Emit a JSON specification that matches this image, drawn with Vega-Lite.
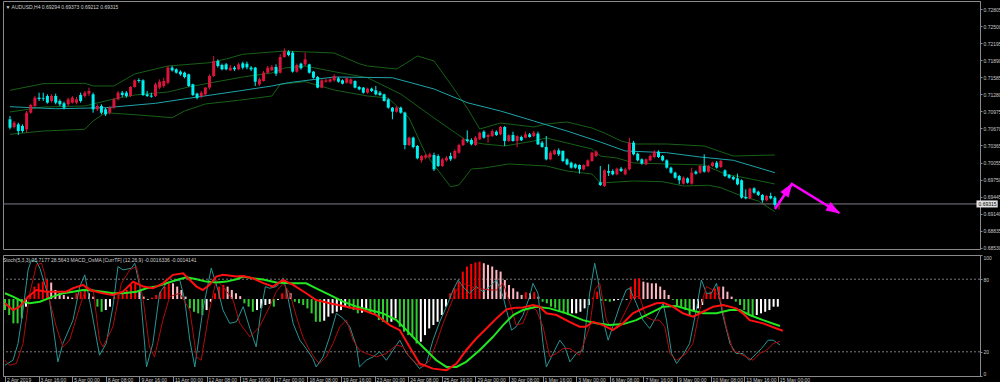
{
"$schema":"https://vega.github.io/schema/vega-lite/v6.json",
"background":"#000000",
"padding":0,
"spacing":2,
"config":{"view":{"stroke":"#8a8a8a","strokeWidth":1},"font":"Liberation Sans","axis":{"labelFont":"Liberation Sans","labelFontSize":5,"labelColor":"#c8c8c8","tickColor":"#8a8a8a","domainColor":"#8a8a8a","grid":false,"labelOverlap":false},"title":{"font":"Liberation Sans","fontSize":5,"fontWeight":"normal","color":"#d0d0d0","anchor":"start"}},
"resolve":{"scale":{"x":"independent","y":"independent","color":"independent"}},
"datasets":{
"candles":[
{"i":0,"o":0.70833,"h":0.70892,"l":0.70653,"c":0.70683},{"i":1,"o":0.70695,"h":0.70803,"l":0.70671,"c":0.70773},{"i":2,"o":0.70743,"h":0.70773,"l":0.70552,"c":0.70623},{"i":3,"o":0.70713,"h":0.70743,"l":0.70593,"c":0.70623},{"i":4,"o":0.70653,"h":0.70982,"l":0.70593,"c":0.70952},{"i":5,"o":0.70952,"h":0.71114,"l":0.70934,"c":0.7109},{"i":6,"o":0.71072,"h":0.71251,"l":0.71054,"c":0.71221},{"i":7,"o":0.71221,"h":0.71311,"l":0.71162,"c":0.71197},{"i":8,"o":0.71209,"h":0.71311,"l":0.71162,"c":0.71197},{"i":9,"o":0.71251,"h":0.71281,"l":0.71114,"c":0.71132},
{"i":10,"o":0.71162,"h":0.71281,"l":0.71132,"c":0.71251},{"i":11,"o":0.71251,"h":0.71293,"l":0.71102,"c":0.71132},{"i":12,"o":0.71162,"h":0.71191,"l":0.71072,"c":0.71102},{"i":13,"o":0.7112,"h":0.7115,"l":0.71012,"c":0.71042},{"i":14,"o":0.71102,"h":0.71221,"l":0.71072,"c":0.71191},{"i":15,"o":0.71132,"h":0.71251,"l":0.71114,"c":0.71221},{"i":16,"o":0.71132,"h":0.71233,"l":0.71102,"c":0.71191},{"i":17,"o":0.71269,"h":0.71311,"l":0.71132,"c":0.71162},{"i":18,"o":0.71251,"h":0.71341,"l":0.71221,"c":0.71311},{"i":19,"o":0.71293,"h":0.71401,"l":0.71251,"c":0.71341},
{"i":20,"o":0.71281,"h":0.71311,"l":0.70952,"c":0.71012},{"i":21,"o":0.71012,"h":0.71102,"l":0.70982,"c":0.71072},{"i":22,"o":0.71072,"h":0.71102,"l":0.70922,"c":0.70952},{"i":23,"o":0.71012,"h":0.71042,"l":0.70892,"c":0.70922},{"i":24,"o":0.70952,"h":0.71072,"l":0.70922,"c":0.71042},{"i":25,"o":0.71042,"h":0.71221,"l":0.71024,"c":0.71191},{"i":26,"o":0.71191,"h":0.71341,"l":0.71174,"c":0.71311},{"i":27,"o":0.71311,"h":0.71341,"l":0.71233,"c":0.71269},{"i":28,"o":0.71311,"h":0.71341,"l":0.71221,"c":0.71251},{"i":29,"o":0.71251,"h":0.71431,"l":0.71233,"c":0.71413},
{"i":30,"o":0.71413,"h":0.7155,"l":0.71401,"c":0.71532},{"i":31,"o":0.71538,"h":0.71568,"l":0.7149,"c":0.7152},{"i":32,"o":0.71532,"h":0.7155,"l":0.71251,"c":0.71269},{"i":33,"o":0.71281,"h":0.71341,"l":0.71233,"c":0.71251},{"i":34,"o":0.71257,"h":0.71311,"l":0.71221,"c":0.71239},{"i":35,"o":0.71251,"h":0.7149,"l":0.71233,"c":0.71461},{"i":36,"o":0.71401,"h":0.7155,"l":0.71371,"c":0.71508},{"i":37,"o":0.71431,"h":0.7158,"l":0.71401,"c":0.7152},{"i":38,"o":0.7149,"h":0.71789,"l":0.71461,"c":0.7176},{"i":39,"o":0.7176,"h":0.71789,"l":0.71688,"c":0.71712},
{"i":40,"o":0.7173,"h":0.71748,"l":0.71652,"c":0.7167},{"i":41,"o":0.71688,"h":0.71712,"l":0.71616,"c":0.7164},{"i":42,"o":0.7167,"h":0.71688,"l":0.71568,"c":0.71592},{"i":43,"o":0.7164,"h":0.71652,"l":0.71413,"c":0.71431},{"i":44,"o":0.71461,"h":0.71473,"l":0.71251,"c":0.71269},{"i":45,"o":0.71293,"h":0.71311,"l":0.71191,"c":0.71221},{"i":46,"o":0.71251,"h":0.71341,"l":0.71209,"c":0.71311},{"i":47,"o":0.71281,"h":0.71413,"l":0.71251,"c":0.71401},{"i":48,"o":0.71401,"h":0.7164,"l":0.71371,"c":0.7161},{"i":49,"o":0.7161,"h":0.71969,"l":0.71592,"c":0.71879},
{"i":50,"o":0.71879,"h":0.71909,"l":0.7176,"c":0.71789},{"i":51,"o":0.71807,"h":0.71831,"l":0.71712,"c":0.7173},{"i":52,"o":0.71819,"h":0.71843,"l":0.71712,"c":0.7173},{"i":53,"o":0.71712,"h":0.71807,"l":0.717,"c":0.7176},{"i":54,"o":0.7176,"h":0.71789,"l":0.717,"c":0.7173},{"i":55,"o":0.7173,"h":0.71849,"l":0.71712,"c":0.71819},{"i":56,"o":0.71837,"h":0.71867,"l":0.7173,"c":0.7176},{"i":57,"o":0.7183,"h":0.71867,"l":0.7173,"c":0.71765},{"i":58,"o":0.7176,"h":0.71789,"l":0.717,"c":0.7173},{"i":59,"o":0.7176,"h":0.71772,"l":0.71431,"c":0.71508},
{"i":60,"o":0.71461,"h":0.7158,"l":0.71431,"c":0.7155},{"i":61,"o":0.7152,"h":0.717,"l":0.71508,"c":0.7167},{"i":62,"o":0.7167,"h":0.71789,"l":0.71652,"c":0.7176},{"i":63,"o":0.71712,"h":0.71807,"l":0.717,"c":0.71772},{"i":64,"o":0.71772,"h":0.71819,"l":0.7161,"c":0.71652},{"i":65,"o":0.7167,"h":0.71999,"l":0.71652,"c":0.71951},{"i":66,"o":0.71951,"h":0.72106,"l":0.71939,"c":0.72059},{"i":67,"o":0.72047,"h":0.72071,"l":0.71963,"c":0.71987},{"i":68,"o":0.72029,"h":0.72059,"l":0.7167,"c":0.71688},{"i":69,"o":0.71688,"h":0.71831,"l":0.7167,"c":0.71807},
{"i":70,"o":0.71831,"h":0.71849,"l":0.71724,"c":0.71748},{"i":71,"o":0.71819,"h":0.72029,"l":0.71789,"c":0.71909},{"i":72,"o":0.71819,"h":0.71831,"l":0.71652,"c":0.7167},{"i":73,"o":0.71688,"h":0.717,"l":0.71562,"c":0.7158},{"i":74,"o":0.71592,"h":0.7161,"l":0.71389,"c":0.71401},{"i":75,"o":0.71401,"h":0.7155,"l":0.71389,"c":0.71532},{"i":76,"o":0.71508,"h":0.71568,"l":0.7149,"c":0.71532},{"i":77,"o":0.71508,"h":0.71568,"l":0.7149,"c":0.7155},{"i":78,"o":0.71532,"h":0.7164,"l":0.71508,"c":0.7161},{"i":79,"o":0.71568,"h":0.71592,"l":0.7149,"c":0.71508},
{"i":80,"o":0.71532,"h":0.7155,"l":0.71461,"c":0.71473},{"i":81,"o":0.7149,"h":0.7158,"l":0.71473,"c":0.71568},{"i":82,"o":0.71473,"h":0.71568,"l":0.71461,"c":0.7155},{"i":83,"o":0.7152,"h":0.71532,"l":0.71389,"c":0.71401},{"i":84,"o":0.71413,"h":0.71431,"l":0.71353,"c":0.71371},{"i":85,"o":0.71401,"h":0.71413,"l":0.71293,"c":0.71311},{"i":86,"o":0.71311,"h":0.71401,"l":0.71293,"c":0.71383},{"i":87,"o":0.71383,"h":0.71401,"l":0.71323,"c":0.71341},{"i":88,"o":0.71353,"h":0.71431,"l":0.71263,"c":0.71281},{"i":89,"o":0.71311,"h":0.71341,"l":0.71251,"c":0.71269},
{"i":90,"o":0.71281,"h":0.71293,"l":0.7115,"c":0.71162},{"i":91,"o":0.71191,"h":0.71209,"l":0.71024,"c":0.71042},{"i":92,"o":0.71042,"h":0.71054,"l":0.70833,"c":0.7097},{"i":93,"o":0.7097,"h":0.71066,"l":0.70952,"c":0.71042},{"i":94,"o":0.71042,"h":0.7106,"l":0.70934,"c":0.70952},{"i":95,"o":0.70952,"h":0.7097,"l":0.70295,"c":0.70372},{"i":96,"o":0.70372,"h":0.70522,"l":0.70354,"c":0.70504},{"i":97,"o":0.70504,"h":0.70522,"l":0.70312,"c":0.70336},{"i":98,"o":0.70354,"h":0.70372,"l":0.70115,"c":0.70133},{"i":99,"o":0.70097,"h":0.70193,"l":0.70055,"c":0.70175},
{"i":100,"o":0.70145,"h":0.70217,"l":0.70115,"c":0.70187},{"i":101,"o":0.70157,"h":0.70235,"l":0.70133,"c":0.70205},{"i":102,"o":0.70193,"h":0.70235,"l":0.69906,"c":0.69936},{"i":103,"o":0.70175,"h":0.70205,"l":0.69978,"c":0.69996},{"i":104,"o":0.69996,"h":0.70145,"l":0.69978,"c":0.70115},{"i":105,"o":0.70097,"h":0.70175,"l":0.70073,"c":0.70145},{"i":106,"o":0.70175,"h":0.70235,"l":0.70085,"c":0.70115},{"i":107,"o":0.70133,"h":0.70295,"l":0.70115,"c":0.70265},{"i":108,"o":0.70235,"h":0.70396,"l":0.70217,"c":0.70372},{"i":109,"o":0.70372,"h":0.70504,"l":0.70354,"c":0.70474},
{"i":110,"o":0.70474,"h":0.70635,"l":0.70414,"c":0.70444},{"i":111,"o":0.70462,"h":0.70492,"l":0.70366,"c":0.70384},{"i":112,"o":0.70372,"h":0.70534,"l":0.70354,"c":0.70504},{"i":113,"o":0.70474,"h":0.70611,"l":0.70456,"c":0.70593},{"i":114,"o":0.70611,"h":0.70635,"l":0.70486,"c":0.70504},{"i":115,"o":0.70516,"h":0.70576,"l":0.70414,"c":0.70552},{"i":116,"o":0.70534,"h":0.70653,"l":0.70516,"c":0.70623},{"i":117,"o":0.70611,"h":0.70635,"l":0.70534,"c":0.70552},{"i":118,"o":0.70564,"h":0.70713,"l":0.70546,"c":0.70695},{"i":119,"o":0.70695,"h":0.70713,"l":0.70354,"c":0.70444},
{"i":120,"o":0.70444,"h":0.70564,"l":0.70426,"c":0.70546},{"i":121,"o":0.70552,"h":0.70611,"l":0.70432,"c":0.70444},{"i":122,"o":0.70444,"h":0.70546,"l":0.70336,"c":0.70534},{"i":123,"o":0.70516,"h":0.7054,"l":0.70444,"c":0.70456},{"i":124,"o":0.70504,"h":0.70611,"l":0.70492,"c":0.70564},{"i":125,"o":0.70564,"h":0.70588,"l":0.70504,"c":0.70516},{"i":126,"o":0.70534,"h":0.70623,"l":0.70516,"c":0.70593},{"i":127,"o":0.70576,"h":0.70611,"l":0.70372,"c":0.70384},{"i":128,"o":0.70414,"h":0.70444,"l":0.70324,"c":0.70336},{"i":129,"o":0.70336,"h":0.70534,"l":0.70097,"c":0.70115},
{"i":130,"o":0.70115,"h":0.70265,"l":0.70097,"c":0.70235},{"i":131,"o":0.70205,"h":0.70295,"l":0.70193,"c":0.70277},{"i":132,"o":0.70277,"h":0.70312,"l":0.70175,"c":0.70205},{"i":133,"o":0.70265,"h":0.70277,"l":0.70067,"c":0.70085},{"i":134,"o":0.70115,"h":0.70133,"l":0.70008,"c":0.70025},{"i":135,"o":0.70055,"h":0.70073,"l":0.69948,"c":0.69966},{"i":136,"o":0.70025,"h":0.70043,"l":0.69948,"c":0.69966},{"i":137,"o":0.70013,"h":0.70025,"l":0.69858,"c":0.69936},{"i":138,"o":0.69936,"h":0.70025,"l":0.69918,"c":0.70013},{"i":139,"o":0.69996,"h":0.70115,"l":0.69978,"c":0.70097},
{"i":140,"o":0.70085,"h":0.70253,"l":0.70073,"c":0.70235},{"i":141,"o":0.70175,"h":0.70277,"l":0.70157,"c":0.70253},{"i":142,"o":0.69703,"h":0.69996,"l":0.69637,"c":0.69655},{"i":143,"o":0.69637,"h":0.69936,"l":0.69619,"c":0.69918},{"i":144,"o":0.69906,"h":0.70026,"l":0.69816,"c":0.69876},{"i":145,"o":0.69906,"h":0.69936,"l":0.69828,"c":0.69846},{"i":146,"o":0.69846,"h":0.69966,"l":0.69828,"c":0.69948},{"i":147,"o":0.69948,"h":0.69978,"l":0.69888,"c":0.69906},{"i":148,"o":0.69846,"h":0.69966,"l":0.69828,"c":0.69936},{"i":149,"o":0.69936,"h":0.70504,"l":0.69918,"c":0.70414},
{"i":150,"o":0.70414,"h":0.70444,"l":0.70187,"c":0.70205},{"i":151,"o":0.70217,"h":0.70235,"l":0.70079,"c":0.70097},{"i":152,"o":0.70115,"h":0.70133,"l":0.7002,"c":0.70038},{"i":153,"o":0.70026,"h":0.70133,"l":0.70008,"c":0.70115},{"i":154,"o":0.70097,"h":0.70205,"l":0.70079,"c":0.70175},{"i":155,"o":0.70157,"h":0.70277,"l":0.70133,"c":0.70253},{"i":156,"o":0.70253,"h":0.70277,"l":0.70139,"c":0.70157},{"i":157,"o":0.70175,"h":0.70193,"l":0.70079,"c":0.70097},{"i":158,"o":0.70097,"h":0.70115,"l":0.69948,"c":0.69966},{"i":159,"o":0.69966,"h":0.69984,"l":0.69858,"c":0.69876},
{"i":160,"o":0.69876,"h":0.69894,"l":0.69768,"c":0.69786},{"i":161,"o":0.69816,"h":0.69834,"l":0.69667,"c":0.69739},{"i":162,"o":0.69679,"h":0.6981,"l":0.69661,"c":0.69786},{"i":163,"o":0.69774,"h":0.69792,"l":0.69679,"c":0.69697},{"i":164,"o":0.69679,"h":0.69966,"l":0.69661,"c":0.69876},{"i":165,"o":0.69894,"h":0.69918,"l":0.6984,"c":0.69858},{"i":166,"o":0.69876,"h":0.70014,"l":0.69858,"c":0.69996},{"i":167,"o":0.69996,"h":0.70205,"l":0.69876,"c":0.69894},{"i":168,"o":0.69894,"h":0.70014,"l":0.69876,"c":0.69996},{"i":169,"o":0.69996,"h":0.70073,"l":0.69978,"c":0.70056},
{"i":170,"o":0.70056,"h":0.70085,"l":0.69948,"c":0.69966},{"i":171,"o":0.69978,"h":0.70103,"l":0.6996,"c":0.70085},{"i":172,"o":0.69918,"h":0.69936,"l":0.69798,"c":0.69816},{"i":173,"o":0.69834,"h":0.69852,"l":0.69768,"c":0.69786},{"i":174,"o":0.69798,"h":0.69816,"l":0.69739,"c":0.69757},{"i":175,"o":0.69774,"h":0.69858,"l":0.69649,"c":0.69667},{"i":176,"o":0.69739,"h":0.69757,"l":0.6941,"c":0.69428},{"i":177,"o":0.6944,"h":0.69577,"l":0.69398,"c":0.69416},{"i":178,"o":0.69416,"h":0.69607,"l":0.69398,"c":0.69589},{"i":179,"o":0.69595,"h":0.69613,"l":0.69499,"c":0.69517},
{"i":180,"o":0.69535,"h":0.69553,"l":0.69458,"c":0.69475},{"i":181,"o":0.69475,"h":0.69493,"l":0.69338,"c":0.6938},{"i":182,"o":0.6938,"h":0.69475,"l":0.69362,"c":0.69458},{"i":183,"o":0.69458,"h":0.69517,"l":0.69398,"c":0.69416},{"i":184,"o":0.69428,"h":0.69458,"l":0.6926,"c":0.69296},{"i":185,"o":0.69294,"h":0.69373,"l":0.69212,"c":0.69315}
],
"bands":[
{"s":"up","i":0,"v":0.71353},{"s":"up","i":8,"v":0.71472},{"s":"up","i":18,"v":0.71479},{"s":"up","i":20,"v":0.71431},{"s":"up","i":25,"v":0.71431},{"s":"up","i":30,"v":0.71646},{"s":"up","i":38,"v":0.71789},{"s":"up","i":48,"v":0.71848},{"s":"up","i":52,"v":0.71915},{"s":"up","i":56,"v":0.71999},{"s":"up","i":66,"v":0.72058},{"s":"up","i":78,"v":0.72022},{"s":"up","i":84,"v":0.7183},{"s":"up","i":86,"v":0.71789},{"s":"up","i":93,"v":0.71735},{"s":"up","i":95,"v":0.71825},{"s":"up","i":98,"v":0.71969},{"s":"up","i":102,"v":0.71879},{"s":"up","i":106,"v":0.71466},{"s":"up","i":110,"v":0.71036},{"s":"up","i":113,"v":0.70659},{"s":"up","i":118,"v":0.70767},{"s":"up","i":126,"v":0.70695},{"s":"up","i":129,"v":0.70749},{"s":"up","i":134,"v":0.70785},{"s":"up","i":140,"v":0.70677},{"s":"up","i":143,"v":0.70588},{"s":"up","i":147,"v":0.70444},{"s":"up","i":150,"v":0.7039},{"s":"up","i":158,"v":0.7039},{"s":"up","i":167,"v":0.70354},{"s":"up","i":174,"v":0.70175},{"s":"up","i":184,"v":0.70193},
{"s":"mid","i":0,"v":0.70964},{"s":"mid","i":8,"v":0.71054},{"s":"mid","i":18,"v":0.71072},{"s":"mid","i":25,"v":0.71197},{"s":"mid","i":30,"v":0.71269},{"s":"mid","i":38,"v":0.71323},{"s":"mid","i":43,"v":0.71413},{"s":"mid","i":48,"v":0.71484},{"s":"mid","i":56,"v":0.71592},{"s":"mid","i":63,"v":0.71664},{"s":"mid","i":66,"v":0.71753},{"s":"mid","i":71,"v":0.71789},{"s":"mid","i":78,"v":0.71687},{"s":"mid","i":86,"v":0.71579},{"s":"mid","i":94,"v":0.71287},{"s":"mid","i":102,"v":0.70857},{"s":"mid","i":110,"v":0.70444},{"s":"mid","i":114,"v":0.7039},{"s":"mid","i":119,"v":0.70354},{"s":"mid","i":126,"v":0.70444},{"s":"mid","i":129,"v":0.70498},{"s":"mid","i":134,"v":0.70408},{"s":"mid","i":140,"v":0.70301},{"s":"mid","i":142,"v":0.70175},{"s":"mid","i":146,"v":0.70139},{"s":"mid","i":150,"v":0.7005},{"s":"mid","i":158,"v":0.70032},{"s":"mid","i":167,"v":0.70014},{"s":"mid","i":172,"v":0.69852},{"s":"mid","i":177,"v":0.69781},{"s":"mid","i":184,"v":0.69673},
{"s":"low","i":0,"v":0.70564},{"s":"low","i":8,"v":0.70623},{"s":"low","i":18,"v":0.70654},{"s":"low","i":20,"v":0.70803},{"s":"low","i":23,"v":0.70952},{"s":"low","i":31,"v":0.7091},{"s":"low","i":39,"v":0.70862},{"s":"low","i":42,"v":0.70982},{"s":"low","i":47,"v":0.71108},{"s":"low","i":55,"v":0.71174},{"s":"low","i":63,"v":0.71251},{"s":"low","i":65,"v":0.71461},{"s":"low","i":71,"v":0.71508},{"s":"low","i":78,"v":0.71359},{"s":"low","i":86,"v":0.71251},{"s":"low","i":91,"v":0.71215},{"s":"low","i":96,"v":0.70857},{"s":"low","i":100,"v":0.70211},{"s":"low","i":106,"v":0.69624},{"s":"low","i":108,"v":0.69655},{"s":"low","i":111,"v":0.69942},{"s":"low","i":114,"v":0.6996},{"s":"low","i":120,"v":0.70032},{"s":"low","i":129,"v":0.69996},{"s":"low","i":134,"v":0.69906},{"s":"low","i":140,"v":0.69852},{"s":"low","i":142,"v":0.69691},{"s":"low","i":150,"v":0.69727},{"s":"low","i":157,"v":0.69714},{"s":"low","i":162,"v":0.69637},{"s":"low","i":168,"v":0.6965},{"s":"low","i":171,"v":0.69607},{"s":"low","i":176,"v":0.69458},{"s":"low","i":180,"v":0.69368},{"s":"low","i":184,"v":0.69176},
{"s":"ma","i":0,"v":0.71059},{"s":"ma","i":11,"v":0.71023},{"s":"ma","i":23,"v":0.71041},{"s":"ma","i":35,"v":0.7112},{"s":"ma","i":43,"v":0.7121},{"s":"ma","i":55,"v":0.71341},{"s":"ma","i":63,"v":0.71431},{"s":"ma","i":67,"v":0.7149},{"s":"ma","i":78,"v":0.71592},{"s":"ma","i":92,"v":0.71579},{"s":"ma","i":102,"v":0.71377},{"s":"ma","i":110,"v":0.71131},{"s":"ma","i":118,"v":0.70982},{"s":"ma","i":126,"v":0.70803},{"s":"ma","i":134,"v":0.70623},{"s":"ma","i":142,"v":0.70426},{"s":"ma","i":148,"v":0.70265},{"s":"ma","i":158,"v":0.70234},{"s":"ma","i":166,"v":0.70157},{"s":"ma","i":174,"v":0.70098},{"s":"ma","i":184,"v":0.69876}
],
"hist":[
{"i":0,"v":54.5,"k":"G"},{"i":1,"v":50.4,"k":"G"},{"i":2,"v":43.5,"k":"G"},{"i":3,"v":43.5,"k":"G"},{"i":4,"v":47.6,"k":"G"},{"i":5,"v":57.3,"k":"W"},{"i":6,"v":67,"k":"R"},{"i":7,"v":73.9,"k":"R"},{"i":8,"v":76.6,"k":"R"},{"i":9,"v":78,"k":"R"},{"i":10,"v":79.4,"k":"R"},{"i":11,"v":77.2,"k":"P"},{"i":12,"v":71.1,"k":"P"},{"i":13,"v":68.4,"k":"P"},{"i":14,"v":67,"k":"P"},{"i":15,"v":65.6,"k":"P"},{"i":16,"v":64.8,"k":"P"},{"i":17,"v":68.4,"k":"R"},{"i":18,"v":69.7,"k":"R"},{"i":19,"v":71.1,"k":"R"},
{"i":20,"v":68.4,"k":"P"},{"i":21,"v":65.6,"k":"P"},{"i":22,"v":57.3,"k":"G"},{"i":23,"v":53.1,"k":"G"},{"i":24,"v":54.5,"k":"W"},{"i":25,"v":57.3,"k":"W"},{"i":26,"v":65.6,"k":"R"},{"i":27,"v":67,"k":"R"},{"i":28,"v":68.4,"k":"R"},{"i":29,"v":71.1,"k":"R"},{"i":30,"v":75.3,"k":"R"},{"i":31,"v":76.6,"k":"R"},{"i":32,"v":71.1,"k":"P"},{"i":33,"v":65.6,"k":"P"},{"i":34,"v":63,"k":"W"},{"i":35,"v":64.8,"k":"R"},{"i":36,"v":67,"k":"R"},{"i":37,"v":69.7,"k":"R"},{"i":38,"v":73.9,"k":"R"},{"i":39,"v":76.6,"k":"R"},
{"i":40,"v":76.6,"k":"P"},{"i":41,"v":73.9,"k":"P"},{"i":42,"v":71.1,"k":"P"},{"i":43,"v":65.6,"k":"P"},{"i":44,"v":55.9,"k":"G"},{"i":45,"v":53.1,"k":"G"},{"i":46,"v":51.8,"k":"G"},{"i":47,"v":50.4,"k":"G"},{"i":48,"v":54.5,"k":"W"},{"i":49,"v":61.4,"k":"W"},{"i":50,"v":68.4,"k":"R"},{"i":51,"v":73.9,"k":"R"},{"i":52,"v":75.3,"k":"R"},{"i":53,"v":73.9,"k":"P"},{"i":54,"v":71.1,"k":"P"},{"i":55,"v":68.4,"k":"P"},{"i":56,"v":66,"k":"P"},{"i":57,"v":60.1,"k":"G"},{"i":58,"v":57.3,"k":"G"},{"i":59,"v":53.1,"k":"G"},
{"i":60,"v":54.5,"k":"W"},{"i":61,"v":56,"k":"W"},{"i":62,"v":58.7,"k":"W"},{"i":63,"v":59.5,"k":"W"},{"i":64,"v":57.3,"k":"G"},{"i":65,"v":62.8,"k":"W"},{"i":66,"v":68.4,"k":"R"},{"i":67,"v":72.5,"k":"R"},{"i":68,"v":68.4,"k":"P"},{"i":69,"v":61.4,"k":"G"},{"i":70,"v":60.1,"k":"G"},{"i":71,"v":58.7,"k":"G"},{"i":72,"v":55.9,"k":"G"},{"i":73,"v":51.8,"k":"G"},{"i":74,"v":44.8,"k":"G"},{"i":75,"v":44.8,"k":"G"},{"i":76,"v":45.7,"k":"W"},{"i":77,"v":49,"k":"W"},{"i":78,"v":51.8,"k":"W"},{"i":79,"v":53.1,"k":"W"},
{"i":80,"v":54.5,"k":"W"},{"i":81,"v":57.3,"k":"W"},{"i":82,"v":55.9,"k":"G"},{"i":83,"v":54.5,"k":"G"},{"i":84,"v":51.8,"k":"G"},{"i":85,"v":52.3,"k":"W"},{"i":86,"v":54.5,"k":"W"},{"i":87,"v":51.8,"k":"G"},{"i":88,"v":50.4,"k":"G"},{"i":89,"v":46.2,"k":"G"},{"i":90,"v":44.8,"k":"G"},{"i":91,"v":43.5,"k":"G"},{"i":92,"v":44.8,"k":"W"},{"i":93,"v":47.6,"k":"W"},{"i":94,"v":40.7,"k":"G"},{"i":95,"v":36.6,"k":"G"},{"i":96,"v":33.8,"k":"G"},{"i":97,"v":32.4,"k":"G"},{"i":98,"v":26.9,"k":"G"},{"i":99,"v":28.3,"k":"W"},
{"i":100,"v":33.8,"k":"W"},{"i":101,"v":39.3,"k":"W"},{"i":102,"v":42.1,"k":"W"},{"i":103,"v":44.8,"k":"W"},{"i":104,"v":50.4,"k":"W"},{"i":105,"v":57.3,"k":"W"},{"i":106,"v":68.4,"k":"R"},{"i":107,"v":72.5,"k":"R"},{"i":108,"v":78,"k":"R"},{"i":109,"v":86.3,"k":"R"},{"i":110,"v":90.5,"k":"R"},{"i":111,"v":92.7,"k":"R"},{"i":112,"v":93.8,"k":"R"},{"i":113,"v":94.6,"k":"R"},{"i":114,"v":93.2,"k":"P"},{"i":115,"v":91.9,"k":"P"},{"i":116,"v":90.5,"k":"P"},{"i":117,"v":87.7,"k":"P"},{"i":118,"v":86.3,"k":"P"},{"i":119,"v":79.4,"k":"P"},
{"i":120,"v":75.3,"k":"P"},{"i":121,"v":72.5,"k":"P"},{"i":122,"v":69.7,"k":"P"},{"i":123,"v":67,"k":"P"},{"i":124,"v":69.2,"k":"R"},{"i":125,"v":68.4,"k":"P"},{"i":126,"v":69.2,"k":"R"},{"i":127,"v":65.6,"k":"P"},{"i":128,"v":61.4,"k":"G"},{"i":129,"v":60.1,"k":"G"},{"i":130,"v":57.3,"k":"G"},{"i":131,"v":55.9,"k":"G"},{"i":132,"v":53.1,"k":"G"},{"i":133,"v":51.8,"k":"G"},{"i":134,"v":50.4,"k":"G"},{"i":135,"v":51.8,"k":"W"},{"i":136,"v":51.8,"k":"W"},{"i":137,"v":53.1,"k":"W"},{"i":138,"v":55.9,"k":"W"},{"i":139,"v":58.7,"k":"W"},
{"i":140,"v":64.8,"k":"R"},{"i":141,"v":69.7,"k":"R"},{"i":142,"v":62.3,"k":"G"},{"i":143,"v":62,"k":"G"},{"i":144,"v":61.4,"k":"G"},{"i":145,"v":62.3,"k":"W"},{"i":146,"v":62.8,"k":"W"},{"i":147,"v":63.2,"k":"W"},{"i":148,"v":63,"k":"W"},{"i":149,"v":73.9,"k":"R"},{"i":150,"v":80.2,"k":"R"},{"i":151,"v":80.8,"k":"R"},{"i":152,"v":78,"k":"P"},{"i":153,"v":77.2,"k":"P"},{"i":154,"v":76.6,"k":"P"},{"i":155,"v":76.6,"k":"P"},{"i":156,"v":73.9,"k":"P"},{"i":157,"v":71.1,"k":"P"},{"i":158,"v":67,"k":"P"},{"i":159,"v":62.8,"k":"G"},
{"i":160,"v":58.7,"k":"G"},{"i":161,"v":57.3,"k":"G"},{"i":162,"v":54.5,"k":"G"},{"i":163,"v":50.4,"k":"G"},{"i":164,"v":54.5,"k":"W"},{"i":165,"v":55.9,"k":"W"},{"i":166,"v":58.7,"k":"W"},{"i":167,"v":68.4,"k":"R"},{"i":168,"v":69.7,"k":"R"},{"i":169,"v":72.5,"k":"R"},{"i":170,"v":73.9,"k":"R"},{"i":171,"v":73.9,"k":"P"},{"i":172,"v":69.7,"k":"P"},{"i":173,"v":65.6,"k":"P"},{"i":174,"v":61.4,"k":"G"},{"i":175,"v":58.7,"k":"G"},{"i":176,"v":54.5,"k":"G"},{"i":177,"v":50.4,"k":"G"},{"i":178,"v":49,"k":"G"},{"i":179,"v":50.4,"k":"W"},
{"i":180,"v":51.8,"k":"W"},{"i":181,"v":53.1,"k":"W"},{"i":182,"v":54.5,"k":"W"},{"i":183,"v":57.3,"k":"W"},{"i":184,"v":57.3,"k":"W"}
],
"osc":[
{"s":"st","i":0,"v":8.9},{"s":"st","i":1.9,"v":13},{"s":"st","i":3.1,"v":26.9},{"s":"st","i":4.3,"v":54.5},{"s":"st","i":5.5,"v":87.7},{"s":"st","i":6.3,"v":96},{"s":"st","i":7.5,"v":94.6},{"s":"st","i":8.3,"v":89.1},{"s":"st","i":10.6,"v":62.8},{"s":"st","i":12.6,"v":11.7},{"s":"st","i":13.8,"v":26.9},{"s":"st","i":16.2,"v":46.2},{"s":"st","i":17.8,"v":73.9},{"s":"st","i":19,"v":83.6},{"s":"st","i":21,"v":46.2},{"s":"st","i":22.5,"v":17.2},{"s":"st","i":24.1,"v":26.9},{"s":"st","i":25.7,"v":57.3},{"s":"st","i":26.9,"v":90.5},{"s":"st","i":28.1,"v":87.7},{"s":"st","i":30.1,"v":89.1},{"s":"st","i":30.9,"v":93.2},{"s":"st","i":32.1,"v":73.9},{"s":"st","i":33.7,"v":7.5},{"s":"st","i":35.2,"v":26.9},{"s":"st","i":36.8,"v":68.4},{"s":"st","i":38.4,"v":76.6},{"s":"st","i":41.6,"v":79.4},{"s":"st","i":42.8,"v":62.8},{"s":"st","i":44,"v":29.6},{"s":"st","i":45.2,"v":7.5},{"s":"st","i":47.1,"v":54.5},{"s":"st","i":49.1,"v":89.1},{"s":"st","i":50.7,"v":71.1},{"s":"st","i":51.9,"v":54.5},{"s":"st","i":53.5,"v":43.5},{"s":"st","i":55.1,"v":44.8},{"s":"st","i":56.7,"v":57.3},{"s":"st","i":58.3,"v":39.3},{"s":"st","i":59.8,"v":24.1},{"s":"st","i":61,"v":55},{"s":"st","i":62,"v":73.9},{"s":"st","i":63,"v":72.5},{"s":"st","i":64.6,"v":73.9},{"s":"st","i":66.2,"v":80.8},{"s":"st","i":67,"v":71.1},{"s":"st","i":68.6,"v":43.5},{"s":"st","i":70.2,"v":29.6},{"s":"st","i":71.7,"v":22.7},{"s":"st","i":73.3,"v":14.4},{"s":"st","i":74.1,"v":7.5},{"s":"st","i":75.7,"v":15.8},{"s":"st","i":77.3,"v":32.4},{"s":"st","i":78.9,"v":51.8},{"s":"st","i":80.5,"v":47.6},{"s":"st","i":82.1,"v":40.7},{"s":"st","i":83.7,"v":24.1},{"s":"st","i":84.4,"v":7.5},{"s":"st","i":86,"v":13},{"s":"st","i":87.6,"v":15.8},{"s":"st","i":89.2,"v":20},{"s":"st","i":90.8,"v":13},{"s":"st","i":92.4,"v":21.3},{"s":"st","i":94,"v":29.6},{"s":"st","i":95.6,"v":18.6},{"s":"st","i":97.1,"v":13},{"s":"st","i":98.7,"v":6.1},{"s":"st","i":100.3,"v":10.3},{"s":"st","i":101.9,"v":29.6},{"s":"st","i":103.5,"v":44.8},{"s":"st","i":105.1,"v":57.3},{"s":"st","i":106.7,"v":71.1},{"s":"st","i":107.9,"v":79.4},{"s":"st","i":109,"v":73.9},{"s":"st","i":110.6,"v":68.4},{"s":"st","i":112.2,"v":73.9},{"s":"st","i":113.8,"v":69.7},{"s":"st","i":115.4,"v":73.9},{"s":"st","i":117,"v":79.4},{"s":"st","i":118.6,"v":65.6},{"s":"st","i":120.6,"v":37.9},{"s":"st","i":121.7,"v":40.7},{"s":"st","i":123.3,"v":50},{"s":"st","i":124.9,"v":65.6},{"s":"st","i":125.7,"v":76.6},{"s":"st","i":126.9,"v":68.4},{"s":"st","i":128.1,"v":26.9},{"s":"st","i":128.9,"v":7.5},{"s":"st","i":130.5,"v":18.6},{"s":"st","i":132.1,"v":29.6},{"s":"st","i":133.3,"v":24.1},{"s":"st","i":134.5,"v":11.7},{"s":"st","i":136,"v":18.6},{"s":"st","i":137.6,"v":21.3},{"s":"st","i":139.2,"v":68.4},{"s":"st","i":140.4,"v":93.2},{"s":"st","i":141.2,"v":79.4},{"s":"st","i":142.4,"v":46.2},{"s":"st","i":143.6,"v":29.6},{"s":"st","i":144.7,"v":40.7},{"s":"st","i":146.3,"v":57.3},{"s":"st","i":147.9,"v":71.1},{"s":"st","i":148.7,"v":72.5},{"s":"st","i":150.3,"v":60.1},{"s":"st","i":151.9,"v":46.2},{"s":"st","i":153.5,"v":39.3},{"s":"st","i":155.1,"v":49},{"s":"st","i":156.7,"v":60.1},{"s":"st","i":157.5,"v":46.2},{"s":"st","i":158.7,"v":18.6},{"s":"st","i":159.9,"v":10.3},{"s":"st","i":161.4,"v":17.2},{"s":"st","i":163,"v":26.9},{"s":"st","i":164.6,"v":54.5},{"s":"st","i":165.8,"v":79.4},{"s":"st","i":167,"v":68.4},{"s":"st","i":168.2,"v":68.4},{"s":"st","i":169.4,"v":76.6},{"s":"st","i":171,"v":49},{"s":"st","i":172.6,"v":26.9},{"s":"st","i":174.1,"v":18.6},{"s":"st","i":175.7,"v":18.6},{"s":"st","i":177.3,"v":13},{"s":"st","i":178.9,"v":18.6},{"s":"st","i":180.1,"v":22.7},{"s":"st","i":181.7,"v":29.6},{"s":"st","i":182.9,"v":29.6},{"s":"st","i":184.5,"v":25.7},
{"s":"sg","i":0,"v":13},{"s":"sg","i":1.1,"v":8.9},{"s":"sg","i":2.7,"v":10.3},{"s":"sg","i":4.3,"v":26.9},{"s":"sg","i":5.9,"v":68.4},{"s":"sg","i":7.5,"v":91.9},{"s":"sg","i":8.7,"v":93.2},{"s":"sg","i":9.4,"v":84.9},{"s":"sg","i":10.6,"v":62.8},{"s":"sg","i":12.2,"v":40.7},{"s":"sg","i":13.8,"v":24.1},{"s":"sg","i":15.4,"v":29.6},{"s":"sg","i":17.8,"v":57.3},{"s":"sg","i":19.4,"v":73.9},{"s":"sg","i":21,"v":71.1},{"s":"sg","i":22.5,"v":29.6},{"s":"sg","i":23.3,"v":24.1},{"s":"sg","i":25.7,"v":40.7},{"s":"sg","i":27.7,"v":76.6},{"s":"sg","i":29.7,"v":87.7},{"s":"sg","i":31.3,"v":90.5},{"s":"sg","i":32.9,"v":62.8},{"s":"sg","i":34.4,"v":24.1},{"s":"sg","i":35.6,"v":15.8},{"s":"sg","i":37.6,"v":46.2},{"s":"sg","i":39.2,"v":65.6},{"s":"sg","i":41.6,"v":68.4},{"s":"sg","i":44,"v":54.5},{"s":"sg","i":45.6,"v":15.8},{"s":"sg","i":46.7,"v":13},{"s":"sg","i":48.7,"v":54.5},{"s":"sg","i":50.3,"v":79.4},{"s":"sg","i":51.9,"v":73.9},{"s":"sg","i":54.3,"v":62.8},{"s":"sg","i":55.9,"v":43.5},{"s":"sg","i":58.3,"v":32.4},{"s":"sg","i":60.6,"v":40.7},{"s":"sg","i":63,"v":57.3},{"s":"sg","i":64.6,"v":69.7},{"s":"sg","i":66.2,"v":76.6},{"s":"sg","i":67.8,"v":68.4},{"s":"sg","i":69.4,"v":49},{"s":"sg","i":70.9,"v":32.4},{"s":"sg","i":72.5,"v":21.3},{"s":"sg","i":74.1,"v":13},{"s":"sg","i":74.9,"v":10.3},{"s":"sg","i":76.5,"v":15.8},{"s":"sg","i":78.1,"v":26.9},{"s":"sg","i":79.7,"v":40.7},{"s":"sg","i":81.3,"v":46.2},{"s":"sg","i":82.9,"v":29.6},{"s":"sg","i":84.4,"v":21.3},{"s":"sg","i":86,"v":18.6},{"s":"sg","i":88.4,"v":15.8},{"s":"sg","i":90.8,"v":18.6},{"s":"sg","i":93.2,"v":25.5},{"s":"sg","i":94.8,"v":24.1},{"s":"sg","i":96.3,"v":15.8},{"s":"sg","i":97.9,"v":10.3},{"s":"sg","i":99.5,"v":7.5},{"s":"sg","i":101.1,"v":13},{"s":"sg","i":102.7,"v":26.9},{"s":"sg","i":104.3,"v":43.5},{"s":"sg","i":105.9,"v":57.3},{"s":"sg","i":107.5,"v":71.1},{"s":"sg","i":109,"v":76.6},{"s":"sg","i":112.2,"v":72.5},{"s":"sg","i":115.4,"v":71.1},{"s":"sg","i":117,"v":71.1},{"s":"sg","i":118.6,"v":76.6},{"s":"sg","i":120.2,"v":60.1},{"s":"sg","i":121.7,"v":42.1},{"s":"sg","i":123.3,"v":43.5},{"s":"sg","i":124.9,"v":57.3},{"s":"sg","i":126.5,"v":54.5},{"s":"sg","i":128.1,"v":40.7},{"s":"sg","i":129.7,"v":15.8},{"s":"sg","i":131.3,"v":18.6},{"s":"sg","i":132.9,"v":22.7},{"s":"sg","i":134.5,"v":22.7},{"s":"sg","i":136.8,"v":17.2},{"s":"sg","i":139.2,"v":40.7},{"s":"sg","i":140.4,"v":71.1},{"s":"sg","i":141.6,"v":76.6},{"s":"sg","i":143.2,"v":46.2},{"s":"sg","i":144.7,"v":37.9},{"s":"sg","i":146.3,"v":43.5},{"s":"sg","i":147.9,"v":54.5},{"s":"sg","i":149.5,"v":65.6},{"s":"sg","i":151.1,"v":65.6},{"s":"sg","i":152.6,"v":49},{"s":"sg","i":154.2,"v":46.2},{"s":"sg","i":155.8,"v":46.2},{"s":"sg","i":157.1,"v":40.7},{"s":"sg","i":158.3,"v":18.6},{"s":"sg","i":159.9,"v":13},{"s":"sg","i":162.2,"v":18.6},{"s":"sg","i":163.8,"v":26.9},{"s":"sg","i":165.4,"v":54.5},{"s":"sg","i":167,"v":73.9},{"s":"sg","i":168.6,"v":71.1},{"s":"sg","i":170.2,"v":65.6},{"s":"sg","i":171.7,"v":40.7},{"s":"sg","i":173.3,"v":21.3},{"s":"sg","i":174.9,"v":18.6},{"s":"sg","i":176.5,"v":15.8},{"s":"sg","i":178.1,"v":13},{"s":"sg","i":179.7,"v":18.6},{"s":"sg","i":181.3,"v":21.3},{"s":"sg","i":182.9,"v":26.9},{"s":"sg","i":184.5,"v":28.6},
{"s":"mr","i":0,"v":60.1},{"s":"mr","i":1.9,"v":54.5},{"s":"mr","i":3.5,"v":57.3},{"s":"mr","i":5.5,"v":65.6},{"s":"mr","i":7.5,"v":71.1},{"s":"mr","i":9.8,"v":69.7},{"s":"mr","i":14.6,"v":69.7},{"s":"mr","i":16.2,"v":72.5},{"s":"mr","i":18.6,"v":75.3},{"s":"mr","i":20.2,"v":71.1},{"s":"mr","i":23.3,"v":68.4},{"s":"mr","i":25.7,"v":67},{"s":"mr","i":28.1,"v":69.7},{"s":"mr","i":30.5,"v":78},{"s":"mr","i":32.9,"v":73.9},{"s":"mr","i":35.2,"v":72.5},{"s":"mr","i":37.6,"v":76.6},{"s":"mr","i":40,"v":83.6},{"s":"mr","i":42.4,"v":84.9},{"s":"mr","i":43.6,"v":80.8},{"s":"mr","i":45.6,"v":73.9},{"s":"mr","i":47.1,"v":71.1},{"s":"mr","i":48.7,"v":75.3},{"s":"mr","i":50.3,"v":82.2},{"s":"mr","i":51.9,"v":83.6},{"s":"mr","i":55.1,"v":82.2},{"s":"mr","i":56.7,"v":82.7},{"s":"mr","i":59,"v":80.8},{"s":"mr","i":61.4,"v":77},{"s":"mr","i":63.8,"v":73.9},{"s":"mr","i":66.2,"v":79.4},{"s":"mr","i":68.6,"v":75.3},{"s":"mr","i":71.7,"v":68.4},{"s":"mr","i":74.1,"v":62.8},{"s":"mr","i":77.3,"v":60.1},{"s":"mr","i":81.3,"v":57.3},{"s":"mr","i":85.2,"v":54.5},{"s":"mr","i":88.4,"v":50.4},{"s":"mr","i":91.6,"v":42.1},{"s":"mr","i":94,"v":37.9},{"s":"mr","i":96.3,"v":24.1},{"s":"mr","i":98.7,"v":10.3},{"s":"mr","i":101.9,"v":6.1},{"s":"mr","i":105.1,"v":4.8},{"s":"mr","i":107.5,"v":10.3},{"s":"mr","i":109.8,"v":21.3},{"s":"mr","i":112.2,"v":31},{"s":"mr","i":114.6,"v":39.3},{"s":"mr","i":117,"v":47.6},{"s":"mr","i":119.4,"v":55.1},{"s":"mr","i":121.7,"v":56.5},{"s":"mr","i":123.3,"v":56.7},{"s":"mr","i":125.7,"v":58.7},{"s":"mr","i":127.3,"v":57.3},{"s":"mr","i":128.9,"v":51.8},{"s":"mr","i":131.3,"v":50.4},{"s":"mr","i":134.4,"v":44.8},{"s":"mr","i":136.8,"v":40.7},{"s":"mr","i":138.3,"v":40.7},{"s":"mr","i":140,"v":44.8},{"s":"mr","i":142.4,"v":42.1},{"s":"mr","i":144.7,"v":37.9},{"s":"mr","i":147.1,"v":43.5},{"s":"mr","i":149.5,"v":51.8},{"s":"mr","i":151.9,"v":55.9},{"s":"mr","i":155.1,"v":60.1},{"s":"mr","i":156.7,"v":60.6},{"s":"mr","i":159,"v":57.3},{"s":"mr","i":161.4,"v":51.8},{"s":"mr","i":163.8,"v":49},{"s":"mr","i":166.2,"v":53.1},{"s":"mr","i":168.6,"v":57.3},{"s":"mr","i":171,"v":58.7},{"s":"mr","i":174.1,"v":55.9},{"s":"mr","i":175.7,"v":51.8},{"s":"mr","i":177.3,"v":46.2},{"s":"mr","i":180.5,"v":43.5},{"s":"mr","i":183.7,"v":39.3},{"s":"mr","i":185.2,"v":37.4},
{"s":"mg","i":0,"v":68.4},{"s":"mg","i":1.9,"v":65.6},{"s":"mg","i":4.3,"v":61.4},{"s":"mg","i":5.9,"v":60.1},{"s":"mg","i":8.3,"v":61.4},{"s":"mg","i":11.4,"v":65.6},{"s":"mg","i":13.8,"v":68.4},{"s":"mg","i":16.2,"v":69.7},{"s":"mg","i":18.6,"v":71.1},{"s":"mg","i":21,"v":70.6},{"s":"mg","i":23.3,"v":69.7},{"s":"mg","i":25.7,"v":68.4},{"s":"mg","i":28.1,"v":68.4},{"s":"mg","i":31.3,"v":69.7},{"s":"mg","i":33.7,"v":72.5},{"s":"mg","i":36,"v":73.9},{"s":"mg","i":38.4,"v":76.6},{"s":"mg","i":40.8,"v":79.4},{"s":"mg","i":43.2,"v":81.6},{"s":"mg","i":45.6,"v":80},{"s":"mg","i":47.9,"v":78},{"s":"mg","i":50.3,"v":77.2},{"s":"mg","i":52.7,"v":78},{"s":"mg","i":55.1,"v":80},{"s":"mg","i":56.7,"v":82.2},{"s":"mg","i":59,"v":80.8},{"s":"mg","i":61.4,"v":79.7},{"s":"mg","i":64.6,"v":77.2},{"s":"mg","i":67.8,"v":76.6},{"s":"mg","i":71.7,"v":76.6},{"s":"mg","i":74.1,"v":72.5},{"s":"mg","i":77.3,"v":67},{"s":"mg","i":80.5,"v":61.4},{"s":"mg","i":83.7,"v":57.3},{"s":"mg","i":86.8,"v":54.5},{"s":"mg","i":90,"v":51.8},{"s":"mg","i":93.2,"v":46.2},{"s":"mg","i":95.6,"v":37.9},{"s":"mg","i":97.9,"v":29.6},{"s":"mg","i":100.3,"v":21.3},{"s":"mg","i":102.7,"v":13},{"s":"mg","i":105.1,"v":7.5},{"s":"mg","i":107.5,"v":7.5},{"s":"mg","i":109.8,"v":11.7},{"s":"mg","i":113,"v":21.3},{"s":"mg","i":116.2,"v":32.4},{"s":"mg","i":118.6,"v":42.1},{"s":"mg","i":121,"v":50.4},{"s":"mg","i":123.3,"v":54.5},{"s":"mg","i":126.5,"v":57.3},{"s":"mg","i":129.7,"v":55.9},{"s":"mg","i":133.7,"v":51.8},{"s":"mg","i":137.6,"v":46.2},{"s":"mg","i":140.8,"v":43.5},{"s":"mg","i":143.9,"v":42.1},{"s":"mg","i":147.2,"v":42.9},{"s":"mg","i":150.3,"v":46.2},{"s":"mg","i":153.5,"v":51.8},{"s":"mg","i":156.7,"v":57.3},{"s":"mg","i":159.9,"v":57.8},{"s":"mg","i":163.1,"v":54.5},{"s":"mg","i":166.2,"v":51.8},{"s":"mg","i":169.4,"v":51.8},{"s":"mg","i":172.6,"v":54.5},{"s":"mg","i":174.9,"v":54.5},{"s":"mg","i":177.3,"v":50.4},{"s":"mg","i":180.5,"v":46.2},{"s":"mg","i":184.5,"v":41.3}
],
"arrow":[{"k":0,"i":184.0,"p":0.69225},{"k":1,"i":188.1,"p":0.69673},{"k":2,"i":199.5,"p":0.69153}]
},
"vconcat":[
{
"width":977,"height":248,
"title":{"text":"▼ AUDUSD,H4  0.69294 0.69373 0.69212 0.69315","offset":-9,"dx":3},
"layer":[
{"data":{"name":"bands"},"mark":{"type":"line","strokeWidth":1,"clip":true},
 "encoding":{"x":{"field":"i","type":"quantitative","scale":{"domain":[-0.476,232.14],"nice":false,"zero":false},"axis":null},
  "y":{"field":"v","type":"quantitative","title":null,"scale":{"domain":[0.68507,0.72955],"nice":false,"zero":false},
   "axis":{"orient":"right","values":[0.72805,0.725,0.72195,0.7189,0.71585,0.7128,0.70975,0.7067,0.70365,0.70055,0.6975,0.69445,0.6914,0.68835,0.6853],"tickCount":30,"format":".5f","tickSize":2,"labelPadding":1,"labelFlush":false,"labelOverlap":false}},
  "color":{"field":"s","type":"nominal","scale":{"domain":["up","mid","low","ma"],"range":["#176017","#176017","#176017","#1ea3aa"]},"legend":null}}},
{"data":{"values":[{"p":0.69315}]},"mark":{"type":"rule","color":"#7c7f88","strokeWidth":1},
 "encoding":{"y":{"field":"p","type":"quantitative","title":null}}},
{"data":{"name":"candles"},"mark":{"type":"rule","strokeWidth":1},
 "encoding":{"x":{"field":"i","type":"quantitative"},"y":{"field":"l","type":"quantitative","title":null},"y2":{"field":"h"},
  "color":{"condition":{"test":"datum.c >= datum.o","value":"#dc143c"},"value":"#00f0f0"}}},
{"data":{"name":"candles"},"mark":{"type":"bar","width":3},
 "encoding":{"x":{"field":"i","type":"quantitative"},"y":{"field":"o","type":"quantitative","title":null},"y2":{"field":"c"},
  "color":{"condition":{"test":"datum.c >= datum.o","value":"#dc143c"},"value":"#00f0f0"}}},
{"data":{"name":"arrow"},"mark":{"type":"line","color":"#ff00ff","strokeWidth":2.5},
 "encoding":{"x":{"field":"i","type":"quantitative"},"y":{"field":"p","type":"quantitative","title":null},"order":{"field":"k"}}},
{"data":{"values":[{"i":188.2,"p":0.6969}]},"mark":{"type":"point","filled":true,"opacity":1,"color":"#ff00ff","size":200,"angle":34,"shape":"M0,0L0.7,2L-0.7,2Z"},
 "encoding":{"x":{"field":"i","type":"quantitative"},"y":{"field":"p","type":"quantitative","title":null}}},
{"data":{"values":[{"i":199.7,"p":0.69143}]},"mark":{"type":"point","filled":true,"opacity":1,"color":"#ff00ff","size":200,"angle":121,"shape":"M0,0L0.7,2L-0.7,2Z"},
 "encoding":{"x":{"field":"i","type":"quantitative"},"y":{"field":"p","type":"quantitative","title":null}}},
{"data":{"values":[{"p":0.69315}]},"mark":{"type":"rect","color":"#e4e4e4","clip":false},
 "encoding":{"x":{"datum":232.5,"type":"quantitative"},"x2":{"datum":237.6},"y":{"datum":0.69378,"type":"quantitative"},"y2":{"datum":0.69252}}},
{"data":{"values":[{"p":0.69315}]},"mark":{"type":"text","align":"left","baseline":"middle","fontSize":5,"color":"#000000","font":"Liberation Sans"},
 "encoding":{"x":{"datum":233.0,"type":"quantitative"},"y":{"field":"p","type":"quantitative","title":null},"text":{"field":"p","type":"quantitative","format":".5f"}}}
]
},
{
"width":977,"height":121,
"title":{"text":"Stoch(5,3,3) 25.7177 28.5643  MACD_OsMA [CurrTF] (12,26,9) -0.0016336 -0.0014141","offset":-8,"dx":2},
"layer":[
{"data":{"values":[{"lv":20},{"lv":80}]},"mark":{"type":"rule","color":"#7a7a7a","strokeDash":[2,2],"strokeWidth":1},
 "encoding":{"y":{"field":"lv","type":"quantitative","title":null,"scale":{"domain":[0,100],"nice":false,"zero":false},
  "axis":{"orient":"right","values":[0,20,80,100],"tickCount":10,"tickSize":2,"labelPadding":1,"labelFlush":true,"labelOverlap":false}}}},
{"data":{"name":"hist"},"mark":{"type":"rule","strokeWidth":2},
 "encoding":{"x":{"field":"i","type":"quantitative","title":null,"scale":{"domain":[-0.476,232.14],"nice":false,"zero":false},
   "axis":{"orient":"bottom","values":[0,8,16,24,32,40,48,56,64,72,80,88,96,104,112,120,128,136,144,152,160,168,176,184],"tickCount":40,
    "labelExpr":"['2 Apr 2019','3 Apr 16:00','5 Apr 00:00','8 Apr 08:00','9 Apr 16:00','11 Apr 00:00','12 Apr 08:00','15 Apr 16:00','17 Apr 00:00','18 Apr 08:00','19 Apr 16:00','23 Apr 00:00','24 Apr 08:00','25 Apr 16:00','29 Apr 00:00','30 Apr 08:00','1 May 16:00','3 May 00:00','6 May 08:00','7 May 16:00','9 May 00:00','10 May 08:00','13 May 16:00','15 May 00:00'][round(datum.value/8)]",
    "labelAlign":"left","labelOffset":1.5,"labelPadding":-5,"tickSize":6,"labelFlush":false,"labelOverlap":false,"labelBound":false}},
  "y":{"field":"v","type":"quantitative","title":null},"y2":{"datum":63.6},
  "color":{"field":"k","type":"nominal","scale":{"domain":["G","R","W","P"],"range":["#32cd32","#ff0000","#ffffff","#ffb6c1"]},"legend":null}}},
{"data":{"name":"osc"},"transform":[{"filter":"datum.s=='st'"}],"mark":{"type":"line","color":"#2a9494","strokeWidth":1},
 "encoding":{"x":{"field":"i","type":"quantitative"},"y":{"field":"v","type":"quantitative","title":null}}},
{"data":{"name":"osc"},"transform":[{"filter":"datum.s=='sg'"}],"mark":{"type":"line","color":"#b00c0c","strokeWidth":1},
 "encoding":{"x":{"field":"i","type":"quantitative"},"y":{"field":"v","type":"quantitative","title":null}}},
{"data":{"name":"osc"},"transform":[{"filter":"datum.s=='mg'"}],"mark":{"type":"line","color":"#22e622","strokeWidth":2},
 "encoding":{"x":{"field":"i","type":"quantitative"},"y":{"field":"v","type":"quantitative","title":null}}},
{"data":{"name":"osc"},"transform":[{"filter":"datum.s=='mr'"}],"mark":{"type":"line","color":"#ff1010","strokeWidth":2},
 "encoding":{"x":{"field":"i","type":"quantitative"},"y":{"field":"v","type":"quantitative","title":null}}}
]
}
]
}
